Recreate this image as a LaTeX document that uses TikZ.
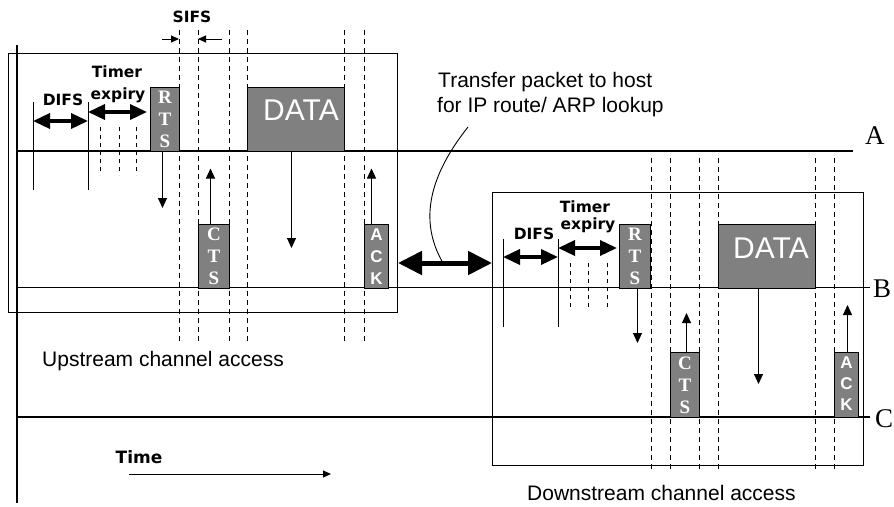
\documentclass[tikz,border=0pt]{standalone}
\usepackage{fontspec}
\setmainfont{Liberation Serif}
\newfontfamily\arialf{Liberation Sans}
\newfontfamily\verdf{DejaVu Sans}
\usetikzlibrary{arrows.meta,calc}
\definecolor{pktgray}{RGB}{128,128,128}
\begin{document}
\begin{tikzpicture}[x=1pt,y=-1pt,
  axis/.style={line width=1.1pt},
  frame/.style={draw=black, line width=1pt, inner sep=0pt, anchor=north west},
  tick/.style={line width=1pt},
  dsh/.style={line width=1pt, dash pattern=on 5pt off 4pt},
  sdsh/.style={line width=0.8pt, dash pattern=on 4pt off 4pt},
  pkt/.style={draw=black, fill=pktgray, line width=1pt, inner sep=0pt, anchor=north west},
  ltr/.style={text=white, font=\bfseries\fontsize{19}{19}\selectfont, anchor=base, inner sep=0pt},
  sltr/.style={text=white, font=\arialf\bfseries\fontsize{17}{17}\selectfont, anchor=base, inner sep=0pt},
  datatxt/.style={text=white, font=\arialf\fontsize{30}{30}\selectfont, anchor=base west, inner sep=0pt},
  dbl/.style={line width=3.5pt, {Triangle[length=17pt,width=15pt]}-{Triangle[length=17pt,width=15pt]}},
  hugedbl/.style={line width=5pt, {Triangle[length=24pt,width=23pt]}-{Triangle[length=24pt,width=23pt]}},
  sig/.style={line width=1pt, -{Triangle[length=10pt,width=9pt]}},
  small/.style={line width=1pt, -{Triangle[length=8pt,width=7pt]}},
  blab/.style={font=\verdf\bfseries\fontsize{15.5}{15.5}\selectfont, anchor=base, inner sep=0pt},
  lab/.style={font=\arialf\fontsize{21}{21}\selectfont, anchor=base west, inner sep=0pt},
  chan/.style={font=\fontsize{27}{27}\selectfont, anchor=west, inner sep=0pt},
]
\useasboundingbox (0,0) rectangle (894,506);

% frames
\node[frame, minimum width=389pt, minimum height=259pt] (up) at (8,53) {};
\node[frame, minimum width=371pt, minimum height=273pt] (down) at (492,192) {};

% time axis and channel lines
\draw[axis] (17,45) -- (17,503);
\draw[axis] (17,151) -- (853,151);
\draw[axis] (17,287.5) -- (870,287.5);
\draw[axis] (17,417) -- (870,417);
\node[chan] (la) at (865,136) {A};
\node[chan] (lb) at (873,289) {B};
\node[chan] (lc) at (875,419) {C};

% ---------- upstream ----------
\draw[tick] (33,102) -- (33,190);
\draw[tick] (88,102) -- (88,190);
\draw[dbl] (33,121) -- (88,121);
\node[blab] (difsA) at (63,105) {DIFS};
\draw[dbl] (88,112) -- (147,112);
\node[blab] (timA) at (117,77) {Timer};
\node[blab] (expA) at (118,99) {expiry};
\foreach \x in {100,119,136} \draw[sdsh] (\x,127) -- (\x,175);

\node[pkt, minimum width=29pt, minimum height=64pt] (rtsA) at (150,87) {};
\node[pkt, minimum width=97pt, minimum height=64pt] (dataA) at (247,87) {};
\node[pkt, minimum width=31pt, minimum height=64pt] (ctsA) at (198,223.5) {};
\node[pkt, minimum width=24pt, minimum height=64pt] (ackA) at (364,223.5) {};
\node[datatxt] at ($(dataA.north west)+(16,33)$) {DATA};
\foreach \l [count=\i] in {R,T,S} \node[ltr] at ($(rtsA.north)+(0,{22*\i-6})$) {\l};
\foreach \l [count=\i] in {C,T,S} \node[ltr] at ($(ctsA.north)+(0,{22*\i-5})$) {\l};
\foreach \l [count=\i] in {A,C,K} \node[sltr] at ($(ackA.north)+(0,{22*\i-5})$) {\l};

\foreach \x in {179,198,229,247,344,364} \draw[dsh] (\x,30) -- (\x,343);

\draw[sig] (rtsA.south) ++(-2.5,0) -- ++(0,56);
\draw[sig] (ctsA.north) ++(-3.5,0) -- ++(0,-55);
\draw[sig] (dataA.south) ++(-4.5,0) -- ++(0,96);
\draw[sig] (ackA.north) ++(-5,0) -- ++(0,-55);

\node[blab] (sifs) at (192,22) {SIFS};
\draw[small] (162,39) -- (179,39);
\draw[small] (222,39) -- (198,39);

\node[lab] (upl) at (42,366) {Upstream channel access};

% ---------- transfer ----------
\node[lab] (tr1) at (438,87) {Transfer packet to host};
\node[lab] (tr2) at (437,112) {for IP route/ ARP lookup};
\coordinate (xfer) at (443,263);
\draw[hugedbl] (up.east |- xfer) -- (down.west |- xfer);
\draw[line width=0.9pt] (468,127) .. controls (430,175) and (418,220) .. (xfer);

% ---------- downstream ----------
\draw[tick] (503,239) -- (503,327);
\draw[tick] (558,239) -- (558,327);
\draw[dbl] (503,257) -- (558,257);
\node[blab] (difsB) at (534,239) {DIFS};
\draw[dbl] (558,248) -- (617,248);
\node[blab] (timB) at (585,212) {Timer};
\node[blab] (expB) at (588,229) {expiry};
\foreach \x in {570,588,607} \draw[sdsh] (\x,263) -- (\x,310);

\node[pkt, minimum width=31pt, minimum height=63.5pt] (rtsB) at (619,224) {};
\node[pkt, minimum width=97pt, minimum height=63.5pt] (dataB) at (718,224) {};
\node[pkt, minimum width=29pt, minimum height=65pt] (ctsB) at (670,352) {};
\node[pkt, minimum width=24pt, minimum height=65pt] (ackB) at (834,352) {};
\node[datatxt] at ($(dataB.north west)+(15,34)$) {DATA};
\foreach \l [count=\i] in {R,T,S} \node[ltr] at ($(rtsB.north)+(0,{22*\i-6})$) {\l};
\foreach \l [count=\i] in {C,T,S} \node[ltr] at ($(ctsB.north)+(0,{22*\i-5})$) {\l};
\foreach \l [count=\i] in {A,C,K} \node[sltr] at ($(ackB.north)+(0,{21*\i-5})$) {\l};

\foreach \x in {651,670,699,718,815,834} \draw[dsh] (\x,158) -- (\x,472);

\draw[sig] (rtsB.south) ++(2.5,0) -- ++(0,54.5);
\draw[sig] (ctsB.north) ++(1.5,0) -- ++(0,-39);
\draw[sig] (dataB.south) ++(-8.5,0) -- ++(0,95.5);
\draw[sig] (ackB.north) ++(1,0) -- ++(0,-47);

\node[lab] (dnl) at (527,500) {Downstream channel access};

% ---------- time ----------
\node[blab, font=\verdf\bfseries\fontsize{17}{17}\selectfont] (time) at (139,463) {Time};
\draw[small] (129,474) -- (331,474);
\end{tikzpicture}
\end{document}
